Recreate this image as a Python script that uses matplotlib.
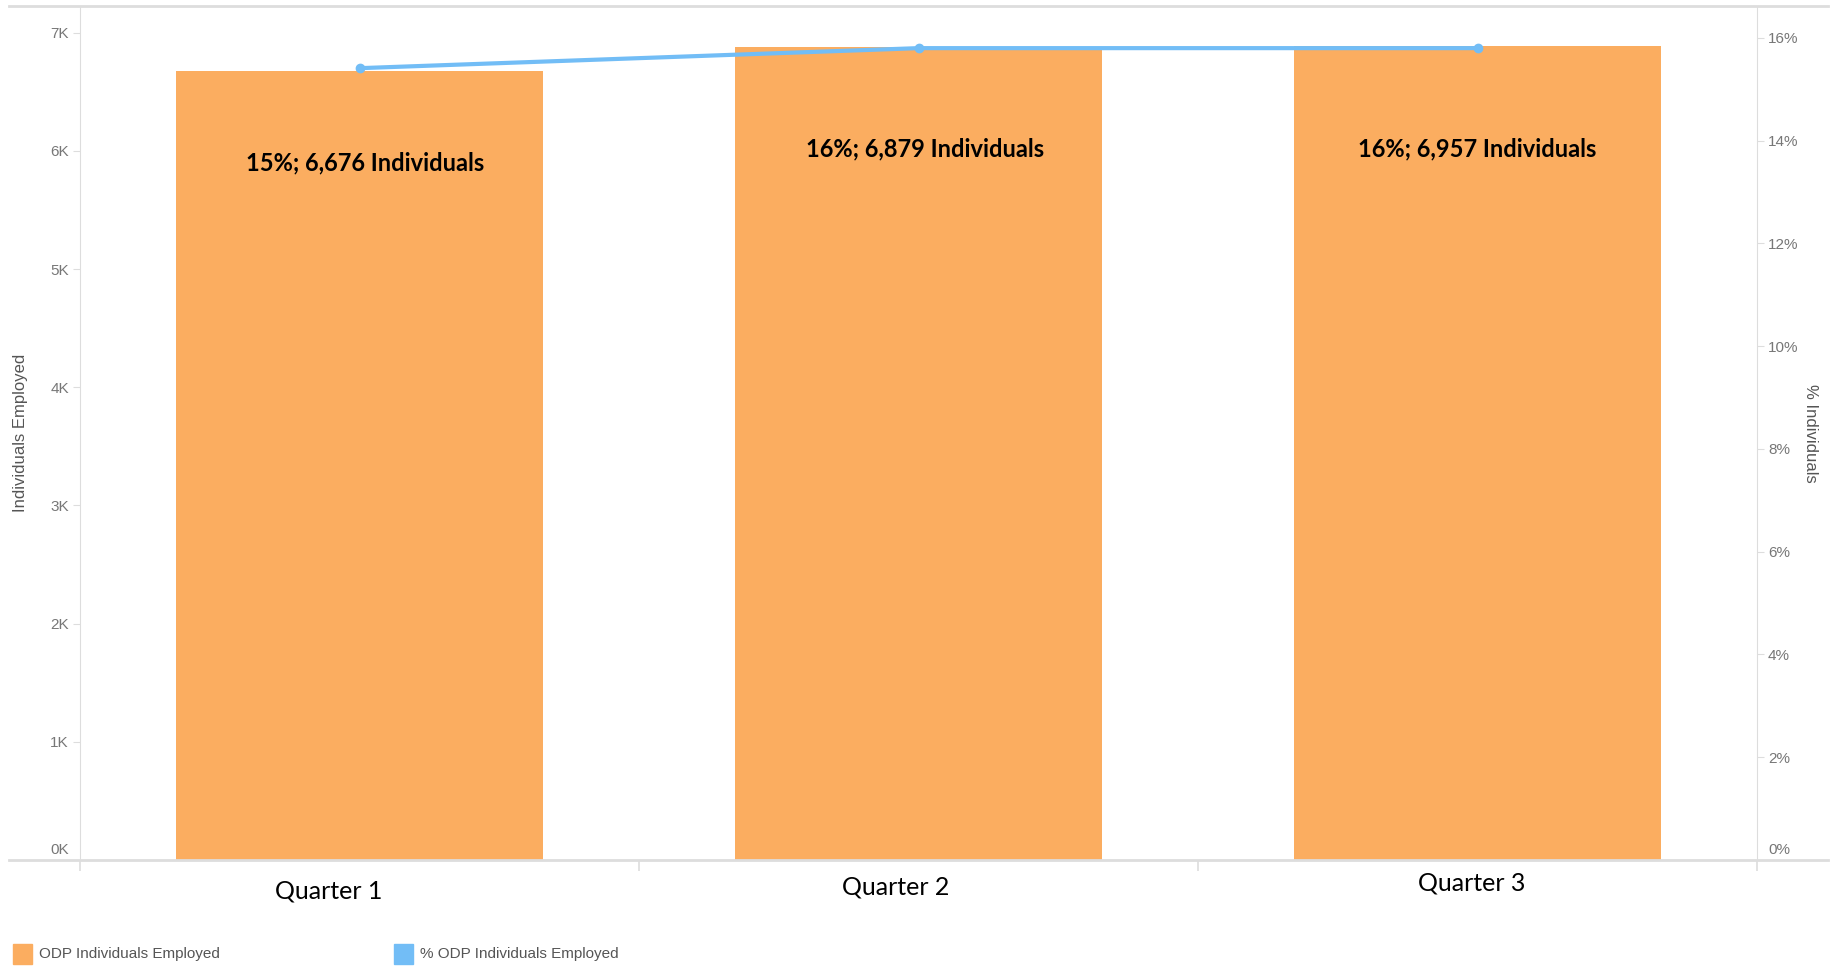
import matplotlib
matplotlib.use('Agg')
import matplotlib.pyplot as plt
from matplotlib.lines import Line2D
from matplotlib.patches import Rectangle
from matplotlib.ticker import FuncFormatter

plt.rcParams['font.family'] = ['Liberation Sans', 'DejaVu Sans']

# Datos
trimestres = ['Quarter 1', 'Quarter 2', 'Quarter 3']
altura_barras = [6676, 6879, 6890]   # altura dibujada de cada barra
porcentaje = [15.41, 15.80, 15.80]
etiquetas = ['15%; 6,676 Individuals', '16%; 6,879 Individuals', '16%; 6,957 Individuals']

color_barra = '#fbad60'
color_linea = '#72bdf6'
gris_texto = '#777777'
gris_linea = '#dddddd'

fig = plt.figure(figsize=(18.38, 9.68), dpi=100)
ax = fig.add_axes([80 / 1838, 1 - 860 / 968, (1757 - 80) / 1838, (860 - 6) / 968])
x = list(range(len(trimestres)))

ax.bar(x, altura_barras, width=0.655, color=color_barra, zorder=2)
ax.set_xlim(-0.5, 2.5)
ax.set_ylim(0, 7226)
ax.yaxis.set_major_locator(plt.MultipleLocator(1000))
ax.yaxis.set_major_formatter(FuncFormatter(lambda v, p: f'{int(v / 1000)}K' if v > 0 else ''))

# Ejes y marcas
for s in ['top', 'right', 'bottom']:
    ax.spines[s].set_visible(False)
ax.spines['left'].set_color(gris_linea)
ax.tick_params(axis='y', colors=gris_linea, labelcolor=gris_texto, labelsize=11, length=5, pad=3)
ax.set_xticks([-0.5, 0.5, 1.5, 2.5])
ax.set_xticklabels([])
ax.tick_params(axis='x', colors=gris_linea, length=8, width=1.2)
ax.set_ylabel('Individuals Employed', fontsize=12, color='#555555')
ax.yaxis.set_label_coords(-0.031, 0.5)
ax.annotate('0K', (0, 0), xycoords=('axes fraction', 'data'), xytext=(-8, 2),
            textcoords='offset points', ha='right', va='bottom', fontsize=11, color=gris_texto)

# Etiquetas de trimestre
desp_x = [-0.055, -0.04, -0.01]
desp_y = [-22.5, -19.5, -16.5]
for i, t in enumerate(trimestres):
    ax.annotate(t, (i + desp_x[i], 0), xytext=(0, desp_y[i]), textcoords='offset points',
                ha='center', va='center', fontsize=18, family=['Lato', 'DejaVu Sans'])

# Etiquetas dentro de las barras
desp_etq = [-66.5, -73.5, -74]
for i, txt in enumerate(etiquetas):
    ax.annotate(txt, (i + [0.01, 0.012, 0.0][i], altura_barras[i]), xytext=(0, desp_etq[i]),
                textcoords='offset points', ha='center', va='center', fontsize=17,
                fontweight='bold', family=['Lato', 'DejaVu Sans'], zorder=5)

# Eje secundario: porcentaje
ax2 = ax.twinx()
ax2.plot(x, porcentaje, color=color_linea, linewidth=3, marker='o', markersize=6, zorder=4)
ax2.set_ylim(0, 16.62)
ax2.yaxis.set_major_locator(plt.MultipleLocator(2))
ax2.yaxis.set_major_formatter(FuncFormatter(lambda v, p: f'{int(v)}%' if v > 0 else ''))
for s in ['top', 'left', 'bottom']:
    ax2.spines[s].set_visible(False)
ax2.spines['right'].set_color(gris_linea)
ax2.tick_params(axis='y', colors=gris_linea, labelcolor=gris_texto, labelsize=11, length=5, pad=3)
ax2.set_ylabel('% Individuals', fontsize=12, color='#555555', rotation=-90, va='center')
ax2.yaxis.set_label_coords(1.032, 0.5)
ax2.annotate('0%', (1, 0), xycoords=('axes fraction', 'data'), xytext=(8, 2),
             textcoords='offset points', ha='left', va='bottom', fontsize=11, color=gris_texto)

# Líneas horizontales superior e inferior
fig.add_artist(Line2D([9 / 1838, 1828 / 1838], [1 - 6 / 968] * 2, color=gris_linea, lw=2))
fig.add_artist(Line2D([9 / 1838, 1828 / 1838], [1 - 860 / 968] * 2, color=gris_linea, lw=2))

# Leyenda
fig.add_artist(Rectangle((13 / 1838, 1 - 964 / 968), 19 / 1838, 20 / 968, color=color_barra))
fig.text(39 / 1838, 1 - 954 / 968, 'ODP Individuals Employed', va='center', fontsize=11,
         color='#555555')
fig.add_artist(Rectangle((394 / 1838, 1 - 964 / 968), 19 / 1838, 20 / 968, color=color_linea))
fig.text(420 / 1838, 1 - 954 / 968, '% ODP Individuals Employed', va='center', fontsize=11,
         color='#555555')

fig.savefig('out.png', dpi=100)
